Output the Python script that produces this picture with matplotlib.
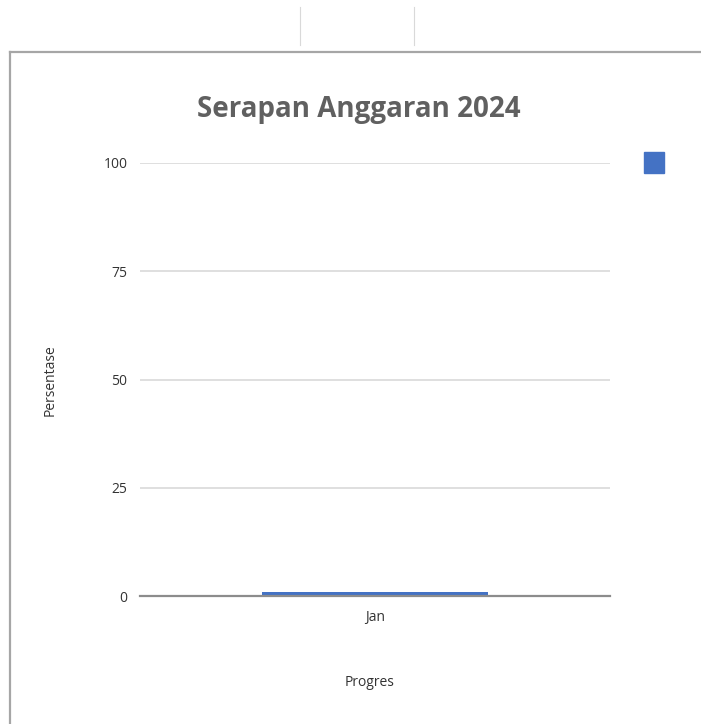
import matplotlib
matplotlib.use("Agg")
import matplotlib.pyplot as plt
from matplotlib.lines import Line2D
from matplotlib.patches import Rectangle

categories = ["Jan"]
values = [1.0]
yticks = [0, 25, 50, 75, 100]
title = "Serapan Anggaran 2024"
xlabel = "Progres"
ylabel = "Persentase"

W, H = 701, 724
fig = plt.figure(figsize=(W / 100, H / 100), dpi=100)
fig.patch.set_facecolor("white")
plt.rcParams["font.family"] = ["Open Sans", "DejaVu Sans"]

def fx(px):
    return px / W

def fy(py):
    return 1 - py / H

# frame and decorations
fig.add_artist(Line2D([fx(10), fx(10)], [fy(52), fy(724)], color="#a6a6a6", lw=1.6))
fig.add_artist(Line2D([fx(10), fx(701)], [fy(52), fy(52)], color="#a6a6a6", lw=1.6))
fig.add_artist(Line2D([fx(300), fx(300)], [fy(7), fy(45)], color="#d9d9d9", lw=0.8))
fig.add_artist(Line2D([fx(414), fx(414)], [fy(7), fy(45)], color="#d9d9d9", lw=0.8))

ax = fig.add_axes([fx(140), fy(596), fx(610) - fx(140), fy(163) - fy(596)])
ax.bar(range(len(categories)), values, width=0.48, color="#4472c4", zorder=3)
ax.set_xlim(-0.5, len(categories) - 0.5)
ax.set_ylim(0, 100)
ax.set_yticks(yticks)
ax.set_yticklabels([str(v) for v in yticks], fontsize=10, color="#333333")
ax.set_xticks(range(len(categories)))
ax.set_xticklabels(categories, fontsize=10, color="#333333")
ax.tick_params(axis="both", length=0, pad=9)
ax.tick_params(axis="x", pad=10)
ax.grid(axis="y", color="#d9d9d9", lw=1.2, zorder=0)
for s in ["top", "right", "left"]:
    ax.spines[s].set_visible(False)
ax.spines["bottom"].set_color("#8c8c8c")
ax.spines["bottom"].set_linewidth(1.6)
ax.spines["bottom"].set_zorder(4)
ax.set_facecolor("white")

fig.text(fx(359), fy(109), title, ha="center", va="center", fontsize=20,
         fontweight="bold", color="#606060")
fig.text(fx(370), fy(683), xlabel, ha="center", va="center", fontsize=10, color="#333333")
fig.text(fx(50), fy(380), ylabel, ha="center", va="center", rotation=90,
         fontsize=10, color="#333333")

fig.add_artist(Rectangle((fx(644), fy(173)), fx(664) - fx(644), fy(152) - fy(173),
                         transform=fig.transFigure, color="#4472c4"))

fig.savefig("out.png", dpi=100)
